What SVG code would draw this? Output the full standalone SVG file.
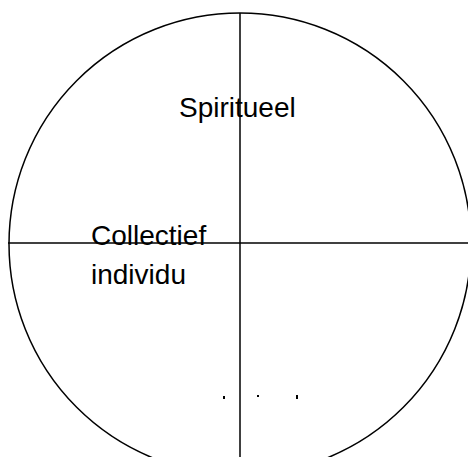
<svg xmlns="http://www.w3.org/2000/svg" width="468" height="457" viewBox="0 0 468 457">
<style>
.ln{stroke:#000;stroke-width:1.5;fill:none}
.t{font-family:"Liberation Sans",Arial,sans-serif;font-size:28px;fill:#000}
</style>
<rect width="468" height="457" fill="#fff"/>
<g id="circle"><circle class="ln" cx="240" cy="244" r="231"/></g>
<g id="connectors">
<line class="ln" x1="8" y1="243" x2="468" y2="243"/>
<line class="ln" x1="240" y1="13" x2="240" y2="457"/>
</g>
<g id="spiritueel"><text class="t" x="179" y="117">Spiritueel</text></g>
<g id="collectief"><text class="t" x="91" y="245">Collectief</text></g>
<g id="individu"><text class="t" x="91" y="284">individu</text></g>
<g id="fragments" fill="#000">
<rect x="223" y="396" width="2" height="3"/>
<rect x="257" y="395" width="2" height="2"/>
<rect x="296" y="395" width="2" height="4"/>
</g>
</svg>
